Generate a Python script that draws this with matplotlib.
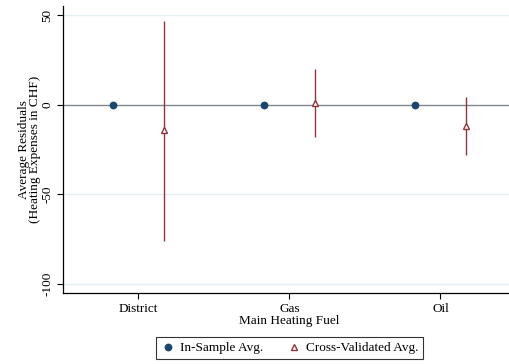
import matplotlib
matplotlib.use("Agg")
import matplotlib.pyplot as plt
from matplotlib.lines import Line2D

fuels = ["District", "Gas", "Oil"]
in_sample = [0.0, 0.0, 0.0]
cv_mean = [-14.4, 0.8, -11.7]
cv_low = [-76.0, -17.8, -28.3]
cv_high = [46.7, 19.8, 4.1]

navy = "#1a476f"
maroon = "#90353b"

plt.rcParams["font.family"] = ["Liberation Serif", "DejaVu Serif"]
plt.rcParams["font.size"] = 9.5

fig = plt.figure(figsize=(5.10, 3.64), dpi=100)
ax = fig.add_axes([63 / 510, 71 / 364, 453 / 510, 287 / 364])

x = list(range(1, len(fuels) + 1))
off = 0.166

for v in (50, -50, -100):
    ax.axhline(v, color="#e4eef0", lw=1.0, zorder=0)
ax.axhline(0, color="#80868a", lw=1.0, zorder=1)

xs = [i - off for i in x]
xc = [i + off for i in x]
ax.vlines(xc, cv_low, cv_high, color=maroon, lw=1.0, zorder=2)
ax.plot(xs, in_sample, "o", color=navy, ms=4.6, zorder=3)
ax.plot(xc, cv_mean, "^", mfc="white", mec=maroon, mew=1.0, ms=5.0, zorder=3)

ax.set_xlim(0.5, 3.5)
ax.set_ylim(-105, 55)
ax.set_xticks(x)
ax.set_xticklabels(fuels)
ax.set_yticks([-100, -50, 0, 50])
ax.set_yticklabels(["-100", "-50", "0", "50"], rotation=90, va="center")
ax.tick_params(length=4, width=0.8, color="black", pad=3)
for s in ("top", "right"):
    ax.spines[s].set_visible(False)
for s in ("left", "bottom"):
    ax.spines[s].set_linewidth(0.9)

ax.set_xlabel("Main Heating Fuel", labelpad=0)
ax.set_ylabel("Average Residuals\n(Heating Expenses in CHF)", linespacing=0.95, labelpad=0)

handles = [
    Line2D([], [], ls="none", marker="o", color=navy, ms=4.6),
    Line2D([], [], ls="none", marker="^", mfc="white", mec=maroon, mew=1.0, ms=5.0),
]
leg = fig.legend(handles, ["In-Sample Avg.", "Cross-Validated Avg."], ncol=2,
                 loc="center", bbox_to_anchor=(290 / 510, 1 - 348 / 364),
                 frameon=True, fancybox=False, edgecolor="black",
                 handletextpad=0.4, columnspacing=1.8, borderpad=0.4, handlelength=1.0)
leg.get_frame().set_linewidth(0.8)

fig.savefig("out.png", dpi=100)
